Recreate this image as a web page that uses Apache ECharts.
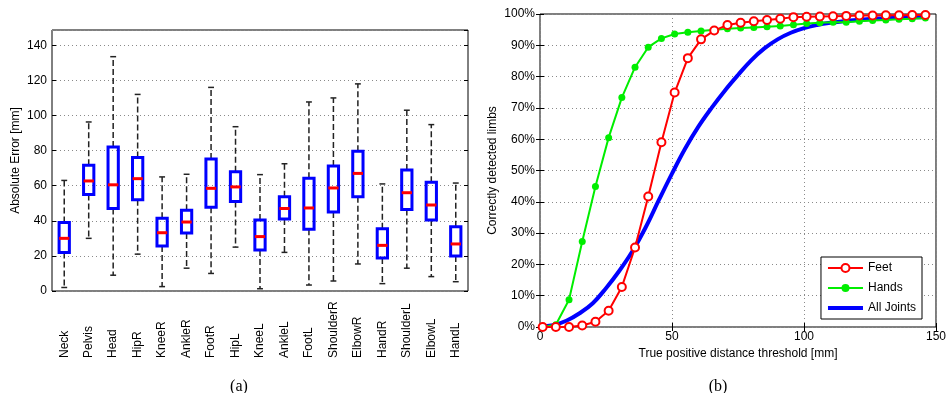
<!DOCTYPE html>
<html>
<head>
<meta charset="utf-8">
<script src="https://cdn.jsdelivr.net/npm/echarts@6/dist/echarts.min.js"></script>
<style>
html,body{margin:0;padding:0;background:#fff;}
#chart{width:949px;height:393px;}
</style>
</head>
<body>
<div id="chart"></div>
<script>
// ---- Left panel (a): box plot data ----
const joints = ['Neck','Pelvis','Head','HipR','KneeR','AnkleR','FootR','HipL','KneeL','AnkleL','FootL','ShoulderR','ElbowR','HandR','ShoulderL','ElbowL','HandL'];
const whiskerLow  = [2,   30,  9,    21,  2.5, 13,   10,  25,  1.3, 22,  3.4, 5.7, 15.4, 4.2, 13,  8.2, 5.3];
const quart1      = [22,  55,  47,   52,  25.6,33,   47.7,51,  23.4,41,  35.2,45,  53.7, 18.8,46.5,40.5,20];
const medians     = [30,  62.7,60.5, 64,  33.2,39.3, 58.5,59.3,31,  47,  47.3,58.7,67,   26,  56,  49,  26.8];
const quart3      = [39,  71.6,82,   76,  41.4,46,   75.2,68,  40.5,53.7,64.2,71.2,79.6, 35.5,69,  62,  36.6];
const whiskerHigh = [63,  96.3,133.5,112, 65,  66.5, 116, 93.6,66.3,72.5,107.7,110,118, 61,  103, 94.8,61.5];
const errorTicks = [0, 20, 40, 60, 80, 100, 120, 140];

// ---- Right panel (b): detection curves ----
const thresholds = [1,6,11,16,21,26,31,36,41,46,51,56,61,66,71,76,81,86,91,96,101,106,111,116,121,126,131,136,141,146];
const feetPct  = [0,0,0,0.5,1.7,5.2,12.8,25.4,41.7,59,74.9,85.9,91.9,94.7,96.5,97.2,97.7,98.1,98.5,99.0,99.1,99.2,99.3,99.4,99.5,99.5,99.6,99.6,99.7,99.7];
const handsPct = [0,0.7,8.7,27.3,44.9,60.5,73.3,83,89.4,92.2,93.6,94.2,94.6,95.0,95.3,95.5,95.7,95.9,96.2,96.6,97.0,97.2,97.4,97.4,97.7,97.9,98.1,98.3,98.5,98.7];
const allJointsX   = [0,5,10,15,20,25,30,35,40,45,50,55,60,65,70,75,80,85,90,95,100,105,110,115,120,125,130,135,140,146];
const allJointsPct = [0.2,0.6,2.0,4.4,7.6,12.4,17.9,24.2,31.8,40.5,49.0,57.0,64.0,70.0,75.5,80.5,85.2,89.0,91.9,94.0,95.5,96.5,97.2,97.7,98.1,98.4,98.6,98.8,98.9,99.0];

const boxData = joints.map((c, i) => [i, whiskerLow[i], quart1[i], medians[i], quart3[i], whiskerHigh[i]]);
const zip = (xs, ys) => xs.map((x, i) => [x, ys[i]]);

const FONT = 'Liberation Sans';
const gridLineStyle = {color: '#8a8a8a', type: [1, 3], width: 1};

function renderBox(params, api) {
  const i = api.value(0);
  const lo = api.coord([i, api.value(1)]);
  const b1 = api.coord([i, api.value(2)]);
  const md = api.coord([i, api.value(3)]);
  const b3 = api.coord([i, api.value(4)]);
  const hi = api.coord([i, api.value(5)]);
  const band = api.size([1, 0])[0];
  const hw = band * 0.21;
  const cw = band * 0.12;
  const x = lo[0];
  const dash = {stroke: '#222', lineWidth: 1.5, lineDash: [6, 3]};
  const cap = {stroke: '#222', lineWidth: 1.5};
  return {
    type: 'group',
    children: [
      {type: 'line', shape: {x1: x, y1: b3[1], x2: x, y2: hi[1]}, style: dash},
      {type: 'line', shape: {x1: x, y1: b1[1], x2: x, y2: lo[1]}, style: dash},
      {type: 'line', shape: {x1: x - cw, y1: hi[1], x2: x + cw, y2: hi[1]}, style: cap},
      {type: 'line', shape: {x1: x - cw, y1: lo[1], x2: x + cw, y2: lo[1]}, style: cap},
      {type: 'rect', shape: {x: x - hw, y: b3[1], width: 2 * hw, height: b1[1] - b3[1]},
        style: {fill: 'none', stroke: '#0000ff', lineWidth: 3}},
      {type: 'line', shape: {x1: x - hw, y1: md[1], x2: x + hw, y2: md[1]},
        style: {stroke: '#ff0000', lineWidth: 3}}
    ]
  };
}

const chart = echarts.init(document.getElementById('chart'), null, {renderer: 'canvas'});
chart.setOption({
  backgroundColor: '#fff',
  animation: false,
  textStyle: {fontFamily: FONT},
  title: [
    {text: '(a)', left: 234, top: 374, textAlign: 'center',
      textStyle: {fontFamily: 'Liberation Serif', fontSize: 16, fontWeight: 'normal', color: '#000'}},
    {text: '(b)', left: 713, top: 374, textAlign: 'center',
      textStyle: {fontFamily: 'Liberation Serif', fontSize: 16, fontWeight: 'normal', color: '#000'}}
  ],
  grid: [
    {left: 52, right: 481, top: 30, bottom: 102, show: true, borderColor: '#000', borderWidth: 1, backgroundColor: 'transparent'},
    {left: 540, right: 11, top: 14, bottom: 66, show: true, borderColor: '#000', borderWidth: 1, backgroundColor: 'transparent'}
  ],
  xAxis: [
    {gridIndex: 0, type: 'category', data: joints, boundaryGap: true,
      axisLine: {show: false}, axisTick: {show: false}, splitLine: {show: false},
      axisLabel: {rotate: 90, align: 'left', verticalAlign: 'middle', margin: 67, fontSize: 12, color: '#000', fontFamily: FONT, interval: 0}},
    {gridIndex: 1, type: 'value', min: 0, max: 150, interval: 50,
      name: 'True positive distance threshold [mm]', nameLocation: 'middle', nameGap: 20,
      nameTextStyle: {fontSize: 12, color: '#000', fontFamily: FONT},
      axisLine: {show: false}, axisTick: {show: true, inside: true, length: 4, lineStyle: {color: '#000'}},
      splitLine: {show: true, lineStyle: gridLineStyle},
      axisLabel: {fontSize: 12, color: '#000', margin: 4, fontFamily: FONT}},
    {gridIndex: 1, type: 'value', min: 0, max: 150, interval: 50, position: 'top',
      axisLine: {show: false}, axisTick: {show: true, inside: true, length: 4, lineStyle: {color: '#000'}},
      splitLine: {show: false}, axisLabel: {show: false}}
  ],
  yAxis: [
    {gridIndex: 0, type: 'value', min: 0, max: 148.7, interval: 20,
      name: 'Absolute Error [mm]', nameLocation: 'middle', nameGap: 30,
      nameTextStyle: {fontSize: 12, color: '#000', fontFamily: FONT},
      axisLine: {show: false}, axisTick: {show: true, inside: true, length: 4, lineStyle: {color: '#000'}},
      splitLine: {show: true, lineStyle: gridLineStyle},
      axisLabel: {fontSize: 12, color: '#000', margin: 5, showMaxLabel: false, fontFamily: FONT,
        formatter: v => errorTicks.includes(v) ? String(v) : ''}},
    {gridIndex: 0, type: 'value', min: 0, max: 148.7, interval: 20, position: 'right',
      axisLine: {show: false}, axisTick: {show: true, inside: true, length: 4, lineStyle: {color: '#000'}},
      splitLine: {show: false}, axisLabel: {show: false}},
    {gridIndex: 1, type: 'value', min: 0, max: 100, interval: 10,
      name: 'Correctly detected limbs', nameLocation: 'middle', nameGap: 41,
      nameTextStyle: {fontSize: 12, color: '#000', fontFamily: FONT},
      axisLine: {show: false}, axisTick: {show: true, inside: true, length: 4, lineStyle: {color: '#000'}},
      splitLine: {show: true, lineStyle: gridLineStyle},
      axisLabel: {fontSize: 12, color: '#000', margin: 5, formatter: '{value}%', fontFamily: FONT}},
    {gridIndex: 1, type: 'value', min: 0, max: 100, interval: 10, position: 'right',
      axisLine: {show: false}, axisTick: {show: true, inside: true, length: 4, lineStyle: {color: '#000'}},
      splitLine: {show: false}, axisLabel: {show: false}}
  ],
  legend: {
    data: ['Feet', 'Hands', {name: 'All Joints', icon: 'path://M0,0 L36,0 L36,4 L0,4 Z'}],
    orient: 'vertical', right: 27, top: 257,
    itemWidth: 35, itemHeight: 10, itemGap: 8,
    padding: [5, 6, 5, 6],
    borderColor: '#000', borderWidth: 1, backgroundColor: '#fff', borderRadius: 0,
    textStyle: {fontSize: 12, color: '#000', fontFamily: FONT}
  },
  series: [
    {type: 'custom', xAxisIndex: 0, yAxisIndex: 0, renderItem: renderBox, data: boxData,
      encode: {x: 0, y: [1, 2, 3, 4, 5]}, silent: true, z: 3},
    {name: 'All Joints', type: 'line', xAxisIndex: 1, yAxisIndex: 2, data: zip(allJointsX, allJointsPct),
      smooth: 0.4, showSymbol: false, symbol: 'none',
      lineStyle: {color: '#0000ff', width: 4}, itemStyle: {color: '#0000ff'}, z: 2},
    {name: 'Hands', type: 'line', xAxisIndex: 1, yAxisIndex: 2, data: zip(thresholds, handsPct),
      symbol: 'circle', symbolSize: 7, showSymbol: true,
      lineStyle: {color: '#00ee00', width: 2}, itemStyle: {color: '#00ee00'}, z: 3},
    {name: 'Feet', type: 'line', xAxisIndex: 1, yAxisIndex: 2, data: zip(thresholds, feetPct),
      symbol: 'emptyCircle', symbolSize: 8, showSymbol: true,
      lineStyle: {color: '#ff0000', width: 2}, itemStyle: {color: '#ff0000', borderColor: '#ff0000', borderWidth: 2}, z: 4}
  ]
});
</script>
</body>
</html>
